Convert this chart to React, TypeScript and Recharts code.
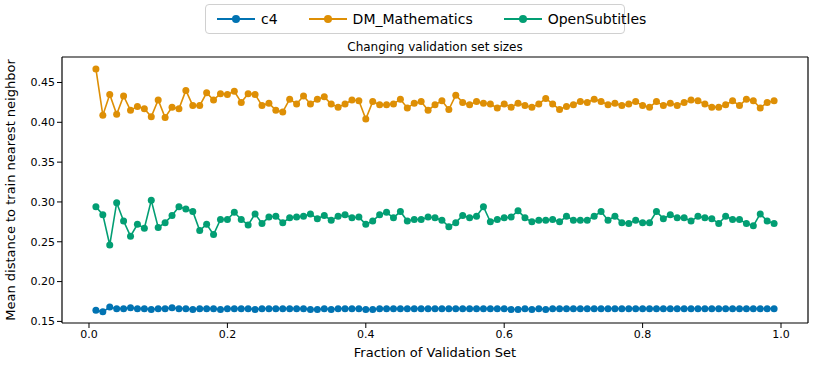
import { LineChart, Line, XAxis, YAxis, Label, ReferenceLine } from 'recharts';

const fractions = Array.from({ length: 99 }, (_, i) => +((i + 1) / 100).toFixed(2));

const c4 = [
  0.164, 0.162, 0.168, 0.166, 0.166, 0.167, 0.166, 0.166, 0.165, 0.166,
  0.166, 0.167, 0.166, 0.166, 0.165, 0.166, 0.166, 0.166, 0.165, 0.166,
  0.166, 0.166, 0.166, 0.165, 0.166, 0.166, 0.166, 0.166, 0.166, 0.166,
  0.166, 0.165, 0.165, 0.166, 0.165, 0.166, 0.166, 0.166, 0.166, 0.165,
  0.165, 0.166, 0.166, 0.166, 0.166, 0.166, 0.166, 0.166, 0.166, 0.166,
  0.166, 0.166, 0.166, 0.166, 0.166, 0.166, 0.166, 0.166, 0.166, 0.166,
  0.165, 0.165, 0.166, 0.165, 0.166, 0.165, 0.166, 0.166, 0.166, 0.166,
  0.166, 0.166, 0.166, 0.166, 0.166, 0.166, 0.166, 0.166, 0.166, 0.166,
  0.166, 0.166, 0.166, 0.166, 0.166, 0.166, 0.166, 0.166, 0.166, 0.166,
  0.166, 0.166, 0.166, 0.166, 0.166, 0.166, 0.166, 0.166, 0.166,
];

const dmMath = [
  0.467, 0.409, 0.435, 0.410, 0.433, 0.415, 0.420, 0.417, 0.407, 0.428,
  0.406, 0.419, 0.417, 0.440, 0.421, 0.421, 0.437, 0.428, 0.436, 0.435,
  0.439, 0.425, 0.436, 0.435, 0.421, 0.424, 0.415, 0.413, 0.429, 0.423,
  0.433, 0.423, 0.429, 0.432, 0.423, 0.419, 0.423, 0.428, 0.427, 0.404,
  0.426, 0.422, 0.422, 0.423, 0.429, 0.418, 0.424, 0.426, 0.415, 0.422,
  0.427, 0.416, 0.434, 0.425, 0.422, 0.426, 0.424, 0.423, 0.418, 0.423,
  0.419, 0.424, 0.421, 0.419, 0.423, 0.430, 0.423, 0.416, 0.420, 0.422,
  0.426, 0.425, 0.429, 0.426, 0.422, 0.424, 0.421, 0.423, 0.426, 0.421,
  0.419, 0.426, 0.421, 0.424, 0.421, 0.425, 0.428, 0.427, 0.423, 0.419,
  0.419, 0.422, 0.427, 0.421, 0.429, 0.427, 0.418, 0.425, 0.427,
];

const openSubtitles = [
  0.294, 0.284, 0.246, 0.299, 0.276, 0.257, 0.272, 0.267, 0.302, 0.268,
  0.274, 0.283, 0.294, 0.291, 0.288, 0.264, 0.272, 0.259, 0.278, 0.278,
  0.287, 0.278, 0.271, 0.285, 0.273, 0.281, 0.282, 0.274, 0.280, 0.281,
  0.282, 0.285, 0.279, 0.283, 0.277, 0.282, 0.284, 0.280, 0.281, 0.272,
  0.276, 0.284, 0.287, 0.280, 0.288, 0.276, 0.278, 0.278, 0.281, 0.280,
  0.277, 0.269, 0.274, 0.283, 0.280, 0.282, 0.294, 0.275, 0.278, 0.280,
  0.281, 0.289, 0.280, 0.275, 0.277, 0.277, 0.278, 0.275, 0.282, 0.277,
  0.277, 0.277, 0.282, 0.288, 0.277, 0.282, 0.274, 0.273, 0.277, 0.274,
  0.274, 0.288, 0.279, 0.284, 0.280, 0.280, 0.276, 0.282, 0.280, 0.279,
  0.273, 0.282, 0.278, 0.278, 0.273, 0.270, 0.285, 0.276, 0.273,
];

const xTicks = [0, 0.2, 0.4, 0.6, 0.8, 1.0];
const yTicks = [0.15, 0.2, 0.25, 0.3, 0.35, 0.4, 0.45];
const yDomain = [0.148, 0.482];

const series = [
  { key: 'c4', name: 'c4', color: '#0173b2' },
  { key: 'dm', name: 'DM_Mathematics', color: '#de8f05' },
  { key: 'os', name: 'OpenSubtitles', color: '#029e73' },
];

const data = fractions.map((f, i) => ({ f, c4: c4[i], dm: dmMath[i], os: openSubtitles[i] }));

const font = 'DejaVu Sans, sans-serif';
const tickStyle = { fontSize: 11, fill: '#000', fontFamily: font };

function LegendBox() {
  return (
    <div style={{ position: 'absolute', left: 205, top: 4, width: 420, height: 30, boxSizing: 'border-box', border: '1px solid #d0d0d0', borderRadius: 4, display: 'flex', alignItems: 'center', fontFamily: font, fontSize: 14, background: '#fff' }}>
      {series.map((s) => (
        <div key={s.key} style={{ display: 'flex', alignItems: 'center', marginLeft: 11, marginRight: 20 }}>
          <svg width={38} height={10}>
            <line x1={0} y1={5} x2={38} y2={5} stroke={s.color} strokeWidth={1.8} />
            <circle cx={19} cy={5} r={4} fill={s.color} />
          </svg>
          <span style={{ marginLeft: 6 }}>{s.name}</span>
        </div>
      ))}
    </div>
  );
}

export default function App() {
  return (
    <div style={{ position: 'absolute', left: 0, top: 0, width: 831, height: 366, background: '#fff' }}>
      <LegendBox />
      <div style={{ position: 'absolute', left: 0, top: 40, width: 831, textAlign: 'center', paddingLeft: 39, boxSizing: 'border-box', fontFamily: font, fontSize: 12 }}>
        Changing validation set sizes
      </div>
      <LineChart width={831} height={366} data={data} margin={{ top: 57, right: 8, bottom: 3, left: 2 }}>
        <XAxis dataKey="f" type="number" domain={[-0.039, 1.039]} ticks={xTicks} tickFormatter={(v: number) => v.toFixed(1)}
          tick={tickStyle} tickSize={5} tickLine={{ stroke: '#000' }} axisLine={{ stroke: '#000', strokeWidth: 1.2 }} height={40} allowDataOverflow>
          <Label value="Fraction of Validation Set" position="insideBottom" offset={6} style={{ fontSize: 13, fill: '#000', fontFamily: font }} />
        </XAxis>
        <YAxis domain={yDomain} ticks={yTicks} tickFormatter={(v: number) => v.toFixed(2)} tick={tickStyle} tickSize={5}
          tickLine={{ stroke: '#000' }} axisLine={{ stroke: '#000', strokeWidth: 1.2 }} width={60} allowDataOverflow>
          <Label value="Mean distance to train nearest neighbor" angle={-90} position="insideLeft" offset={8} style={{ fontSize: 13, fill: '#000', fontFamily: font, textAnchor: 'middle' }} />
        </YAxis>
        <YAxis yAxisId="right" orientation="right" domain={yDomain} ticks={yTicks} tick={false} tickSize={5}
          tickLine={{ stroke: '#000' }} axisLine={{ stroke: '#000', strokeWidth: 1.2 }} width={15} allowDataOverflow />
        <ReferenceLine y={yDomain[1]} stroke="#000" strokeWidth={1.2} ifOverflow="visible" />
        {series.map((s) => (
          <Line key={s.key} dataKey={s.key} name={s.name} stroke={s.color} strokeWidth={1.6}
            dot={{ r: 3.5, fill: s.color, stroke: s.color, strokeWidth: 0 }} isAnimationActive={false} />
        ))}
      </LineChart>
    </div>
  );
}
